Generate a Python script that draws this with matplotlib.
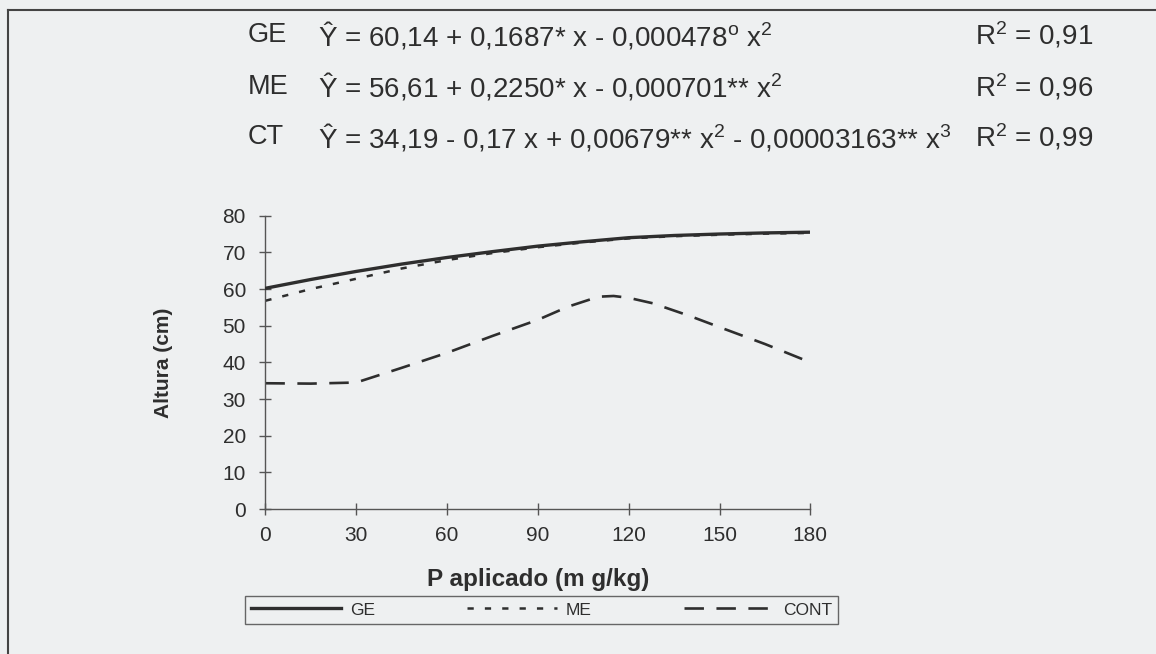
import numpy as np
import matplotlib
matplotlib.use("Agg")
import matplotlib.pyplot as plt
from matplotlib.lines import Line2D

# values
dose = [0, 15, 30, 45, 60, 75, 90, 105, 120, 135, 150, 165, 180]
ge = [60.2, 62.6, 64.8, 66.8, 68.6, 70.2, 71.7, 72.9, 74.0, 74.6, 75.0, 75.3, 75.5]
me = [56.8, 60.0, 62.8, 65.6, 67.9, 69.8, 71.4, 72.7, 73.8, 74.4, 74.8, 75.1, 75.3]
cont_x = [0, 15, 30, 45, 60, 75, 90, 100, 110, 115, 120, 128, 140, 150, 165, 180]
cont = [34.3, 34.2, 34.5, 38.5, 42.6, 47.2, 51.6, 55.2, 57.9, 58.1, 57.6, 56.1, 52.7, 49.6, 45.0, 40.0]

labels = ["GE", "ME", "CT"]
equations = [r"Ŷ = 60,14 + 0,1687* x - 0,000478$^{\mathrm{o}}$ x$^{2}$",
             r"Ŷ = 56,61 + 0,2250* x - 0,000701** x$^{2}$",
             r"Ŷ = 34,19 - 0,17 x + 0,00679** x$^{2}$ - 0,00003163** x$^{3}$"]
r2 = [r"R$^{2}$ = 0,91", r"R$^{2}$ = 0,96", r"R$^{2}$ = 0,99"]

bg = "#eef0f1"
ink = "#2e2e2e"

plt.rcParams["font.family"] = ["Liberation Sans", "DejaVu Sans"]
plt.rcParams["mathtext.fontset"] = "custom"
plt.rcParams["mathtext.rm"] = "Liberation Sans"
plt.rcParams["mathtext.it"] = "Liberation Sans"
plt.rcParams["lines.scale_dashes"] = False

fig = plt.figure(figsize=(11.56, 6.54), dpi=100, facecolor=bg)
ax = fig.add_axes([0.2296, 0.2217, 0.4714, 0.4485])
ax.set_facecolor(bg)

ax.plot(dose, me, color=ink, lw=1.8, dashes=(4.5, 8), zorder=2)
ax.plot(cont_x, cont, color=ink, lw=1.9, dashes=(14, 9), zorder=2)
ax.plot(dose, ge, color=ink, lw=2.4, zorder=3)

ax.set_xlim(0, 180)
ax.set_ylim(0, 80)
ax.set_xticks(range(0, 181, 30))
ax.set_yticks(range(0, 81, 10))
for s in ["top", "right"]:
    ax.spines[s].set_visible(False)
for s in ["left", "bottom"]:
    ax.spines[s].set_color("#555555")
    ax.spines[s].set_linewidth(1.0)
ax.tick_params(direction="inout", length=8, width=1, color="#555555",
               labelsize=15, labelcolor=ink)
ax.tick_params(axis="y", pad=10)
ax.tick_params(axis="x", pad=8)
ax.set_ylabel("Altura (cm)", fontsize=15, fontweight="bold", color=ink, labelpad=36)
ax.set_xlabel("P aplicado (m g/kg)", fontsize=17.5, fontweight="bold", color=ink, labelpad=17)

# regression equations above the plot
rows_y = [0.946, 0.867, 0.790]
for lab, eq, r, yy in zip(labels, equations, r2, rows_y):
    fig.text(0.2145, yy, lab, fontsize=19.5, color=ink, va="center")
    fig.text(0.275, yy, eq, fontsize=20, color=ink, va="center")
    fig.text(0.843, yy, r, fontsize=20, color=ink, va="center")

# legend
handles = [Line2D([], [], color=ink, lw=2.4),
           Line2D([], [], color=ink, lw=1.8, dashes=(4.5, 8)),
           Line2D([], [], color=ink, lw=1.9, dashes=(14, 9))]
leg = fig.legend(handles, ["GE", "ME", "CONT"], loc="center",
                 bbox_to_anchor=(0.4684, 0.0673), ncol=3, fontsize=12.5,
                 frameon=True, fancybox=False, handlelength=5.2, handletextpad=0.5,
                 columnspacing=5.3, borderpad=0.35, labelcolor=ink)
leg.get_frame().set_edgecolor("#444444")
leg.get_frame().set_facecolor(bg)
leg.get_frame().set_linewidth(1.0)

# outer frame of the scanned figure
fig.add_artist(Line2D([0.007, 0.007], [0.0, 0.985], color="#444444", lw=1.5))
fig.add_artist(Line2D([0.007, 1.0], [0.985, 0.985], color="#444444", lw=1.5))

fig.savefig("out.png", dpi=100, facecolor=bg)
